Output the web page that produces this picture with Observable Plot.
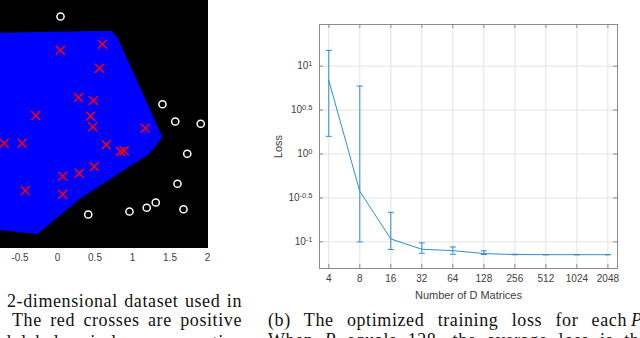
<!DOCTYPE html>
<html>
<head>
<meta charset="utf-8">
<script src="https://cdn.jsdelivr.net/npm/d3@7"></script>
<script src="https://cdn.jsdelivr.net/npm/@observablehq/plot@0.6"></script>
<style>
  html, body { margin: 0; padding: 0; background: #fff; }
  #page { position: relative; width: 640px; height: 338px; overflow: hidden; background: #fff; }
  #left { position: absolute; left: 0; top: 0; }
  #right { position: absolute; left: 250px; top: 0; }
  #captions { position: absolute; left: 0; top: 0; }
</style>
</head>
<body>
<div id="page">
  <div id="left"></div>
  <div id="right"></div>
  <svg id="captions" width="640" height="338" font-family="Liberation Serif, serif" font-size="18" fill="#111"></svg>
</div>
<script>
// ---------- Left panel: 2-D dataset ----------
const posX = [0.60, 0.04, 0.56, 0.28, 0.48, -0.29, 0.44, 0.47, 1.17, -0.71, -0.47, 0.65, 0.84, 0.89, 0.49, 0.29, 0.07, -0.43, 0.07];
const posY = [1.07, 0.99, 0.75, 0.36, 0.32, 0.12, 0.11, -0.03, -0.05, -0.25, -0.25, -0.27, -0.36, -0.35, -0.56, -0.65, -0.69, -0.88, -0.93];
const negX = [0.04, 1.40, 1.57, 1.91, 1.73, 1.60, 1.31, 1.19, 1.68, 0.96, 0.41];
const negY = [1.44, 0.27, 0.04, 0.01, -0.39, -0.79, -1.04, -1.11, -1.13, -1.16, -1.20];
const regionX = [-1.0, 0.71, 0.79, 1.39, 1.21, 0.31, -0.27, -1.0];
const regionY = [1.21, 1.24, 1.16, -0.17, -0.39, -0.97, -1.45, -1.37];
const leftTicks = [-0.5, 0, 0.5, 1, 1.5, 2];

// ---------- Right panel: loss vs number of D matrices ----------
const dMatrices = [4, 8, 16, 32, 64, 128, 256, 512, 1024, 2048];
const lossMean = [6.88, 0.376, 0.108, 0.0824, 0.0796, 0.0736, 0.0718, 0.0715, 0.0715, 0.0715];
const lossLow  = [1.59, 0.100, 0.0818, 0.0742, 0.0723, 0.0718, 0.0713, 0.0713, 0.0713, 0.0713];
const lossHigh = [15.1, 5.93, 0.217, 0.0974, 0.0876, 0.0790, 0.0723, 0.0717, 0.0717, 0.0717];
const yTickExp = [-1, -0.5, 0, 0.5, 1];

const pos = posX.map((x, i) => ({x, y: posY[i]}));
const neg = negX.map((x, i) => ({x, y: negY[i]}));
const region = regionX.map((x, i) => ({x, y: regionY[i]}));

const leftPlot = Plot.plot({
  width: 215, height: 270,
  marginLeft: 0, marginTop: 0, marginRight: 8, marginBottom: 23,
  x: {domain: [-0.76, 2]},
  y: {domain: [-1.64, 1.653], axis: null},
  style: {background: "transparent", fontFamily: "Liberation Sans, Arial, sans-serif", fontSize: "10px", color: "#404040"},
  marks: [
    Plot.frame({fill: "black", stroke: "black"}),
    Plot.line(region, {x: "x", y: "y", fill: "#0000ff", stroke: "#0000ff", clip: true}),
    Plot.dot(pos, {x: "x", y: "y", symbol: "times", r: 4.2, stroke: "#ff0000", strokeWidth: 1.5}),
    Plot.dot(neg, {x: "x", y: "y", symbol: "circle", r: 3.6, stroke: "#ffffff", strokeWidth: 1.5, fill: "none"}),
    Plot.axisX(leftTicks, {tickSize: 0, tickPadding: 6, label: null, tickFormat: d => String(d)})
  ]
});
document.getElementById("left").appendChild(leftPlot);

const rows = dMatrices.map((d, i) => ({d, m: lossMean[i], lo: lossLow[i], hi: lossHigh[i]}));
const yTicks = yTickExp.map(e => ({v: Math.pow(10, e), e}));
const blue = "#2f8ed3";
const grey = "#8c8c8c";
const capSymbol = {draw(ctx, size) { const w = Math.sqrt(size / Math.PI); ctx.moveTo(-w, 0); ctx.lineTo(w, 0); }};
const W = 390, H = 300, mL = 69, mR = 23, mT = 24, mB = 32;
const fw = W - mL - mR, fh = H - mT - mB;
const tickLen = 4;

const rightPlot = Plot.plot({
  width: W, height: H,
  marginLeft: mL, marginRight: mR, marginTop: mT, marginBottom: mB,
  x: {type: "log", base: 2, domain: [Math.pow(2, 1.7), Math.pow(2, 11.31)]},
  y: {type: "log", domain: [Math.pow(10, -1.303), Math.pow(10, 1.474)], axis: null},
  style: {background: "transparent", fontFamily: "Liberation Sans, Arial, sans-serif", fontSize: "10px", color: "#404040"},
  marks: [
    Plot.ruleX(dMatrices, {x: d => d, stroke: "#e3e3e3"}),
    Plot.ruleY(yTicks, {y: "v", stroke: "#e3e3e3"}),
    Plot.tickX(dMatrices, {x: d => d, insetTop: fh - tickLen, stroke: grey}),
    Plot.tickX(dMatrices, {x: d => d, insetBottom: fh - tickLen, stroke: grey}),
    Plot.tickY(yTicks, {y: "v", insetRight: fw - tickLen, stroke: grey}),
    Plot.tickY(yTicks, {y: "v", insetLeft: fw - tickLen, stroke: grey}),
    Plot.ruleX(rows, {x: "d", y1: "lo", y2: "hi", stroke: blue, strokeWidth: 1}),
    Plot.dot(rows, {x: "d", y: "lo", symbol: capSymbol, r: 3, stroke: blue, fill: "none", strokeWidth: 1}),
    Plot.dot(rows, {x: "d", y: "hi", symbol: capSymbol, r: 3, stroke: blue, fill: "none", strokeWidth: 1}),
    Plot.line(rows, {x: "d", y: "m", stroke: blue, strokeWidth: 1}),
    Plot.frame({stroke: grey}),
    Plot.axisX(dMatrices, {tickSize: 0, tickPadding: 6, tickFormat: d => String(d),
      label: "Number of D Matrices", labelAnchor: "center", labelOffset: 30}),
    Plot.text(yTicks, {y: "v", frameAnchor: "left", dx: -7, textAnchor: "end", lineAnchor: "middle",
      text: d => "10^" + d.e, fill: "#404040", fontSize: 10}),
    Plot.axisY({ticks: [], tickSize: 0, label: "Loss", labelAnchor: "center", labelOffset: 45})
  ]
});
document.getElementById("right").appendChild(rightPlot);

// superscripts for the log tick labels; plain axis labels without arrows
rightPlot.querySelectorAll("text").forEach(t => {
  const s = t.textContent;
  if (s.startsWith("10^")) {
    const exp = s.slice(3);
    t.textContent = "10";
    const ts = document.createElementNS("http://www.w3.org/2000/svg", "tspan");
    ts.setAttribute("dy", "-0.45em");
    ts.setAttribute("font-size", "7.5");
    ts.textContent = exp;
    t.appendChild(ts);
  } else if (/Number of D Matrices|Loss/.test(s)) {
    t.textContent = s.replace(/[\u2190-\u2193]/g, "").trim();
    t.setAttribute("font-size", "11");
  }
});

// ---------- Captions ----------
const capSvg = document.getElementById("captions");
const NS = "http://www.w3.org/2000/svg";
function addLine(parts, x, y, width, ls) {
  const t = document.createElementNS(NS, "text");
  t.setAttribute("x", x); t.setAttribute("y", y);
  t.style.letterSpacing = (ls === undefined ? 0.6 : ls) + "px";
  parts.forEach(p => {
    const ts = document.createElementNS(NS, "tspan");
    ts.textContent = p.text;
    if (p.italic) ts.setAttribute("font-style", "italic");
    t.appendChild(ts);
  });
  capSvg.appendChild(t);
  if (width) {
    const w = t.getComputedTextLength();
    const n = (t.textContent.match(/ /g) || []).length;
    if (n && width > w) t.style.wordSpacing = ((width - w) / n) + "px";
  }
  return t;
}
addLine([{text: "2-dimensional dataset used in"}], 7, 307, 235);
addLine([{text: "The red crosses are positive"}], 12, 326, 230);
addLine([{text: "d labels, circles are negative"}], 2, 348, 240);
addLine([{text: "(b) The optimized training loss for each"}], 268, 326, 359);
addLine([{text: "P", italic: true}], 631, 326);
addLine([{text: "When "}, {text: "P", italic: true}, {text: " equals 128, the average loss is the"}], 268, 346, 380);
</script>
</body>
</html>
